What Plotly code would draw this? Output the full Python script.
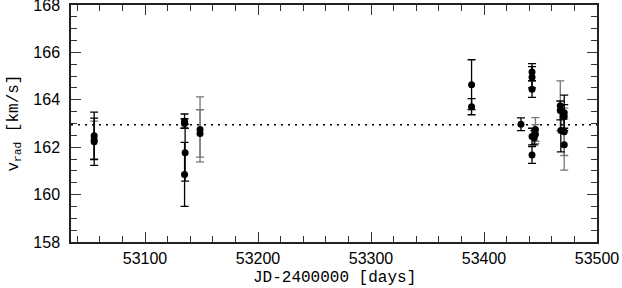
import plotly.graph_objects as go

# radial velocity measurements (JD-2400000, km/s); black error bars
jd_a = [53055.0, 53055.0, 53135.0, 53135.0, 53135.5, 53135.0, 53389.0, 53389.0,
        53432.7, 53442.5, 53442.5, 53442.5, 53442.5, 53442.5, 53444.5,
        53467.5, 53468.0, 53471.0, 53471.0]
v_a = [162.48, 162.23, 163.1, 163.0, 161.77, 160.85, 164.64, 163.71,
       162.97, 165.17, 164.95, 164.45, 162.45, 161.67, 162.4,
       163.55, 162.7, 163.45, 163.3]
err_a = [1.0, 1.0, 0.3, 0.2, 1.2, 1.35, 1.05, 0.34,
         0.27, 0.36, 0.45, 0.35, 0.35, 0.35, 0.3,
         0.4, 0.9, 0.75, 0.5]

# second instrument: grey error bars
jd_b = [53055.0, 53148.7, 53148.7, 53445.5, 53445.5, 53467.5, 53471.0, 53471.0]
v_b = [162.3, 162.75, 162.58, 162.75, 162.55, 163.75, 162.65, 162.1]
err_b = [0.8, 1.37, 1.0, 0.5, 0.4, 1.05, 1.0, 1.07]

v_mean = 162.95

x_ticks = [53100, 53200, 53300, 53400, 53500]
y_ticks = [158, 160, 162, 164, 166, 168]
x_range = [53034.5, 53500]
y_range = [158, 168]

fig = go.Figure()

fig.add_trace(go.Scatter(
    x=jd_b, y=v_b, mode='markers',
    marker=dict(color='black', size=7),
    error_y=dict(type='data', array=err_b, color='#777777', thickness=1.3, width=4),
    showlegend=False))

fig.add_trace(go.Scatter(
    x=jd_a, y=v_a, mode='markers',
    marker=dict(color='black', size=7),
    error_y=dict(type='data', array=err_a, color='black', thickness=1.3, width=4),
    showlegend=False))

fig.add_hline(y=v_mean, line=dict(color='black', width=1.5, dash='2px,5px'), layer='below')

tick_font = dict(family='Liberation Sans, Arial, sans-serif', size=16, color='black')
title_font = dict(family='Liberation Mono, Courier New, monospace', size=16, color='black')


def frame_axis(**kw):
    d = dict(showline=True, linecolor='#222222', linewidth=1.5,
             ticks='inside', ticklen=10, tickwidth=1.3, tickcolor='#333333',
             showgrid=False, zeroline=False, automargin=False, tickfont=tick_font,
             ticklabeloverflow='allow')
    d.update(kw)
    return d


x_minor = dict(dtick=20, tick0=53000, ticks='inside', ticklen=6, tickcolor='#333333', tickwidth=1.2)
y_minor = dict(dtick=0.5, tick0=158, ticks='inside', ticklen=6, tickcolor='#333333', tickwidth=1.2)
y_rng = [y_range[0] - 0.001, y_range[1] + 0.001]

fig.update_layout(
    width=622, height=288,
    margin=dict(l=71, r=25, t=5, b=46),
    plot_bgcolor='white', paper_bgcolor='white',
    xaxis=frame_axis(range=x_range, tickvals=x_ticks, tickformat='d', minor=x_minor,
                     ticklabelstandoff=1),
    yaxis=frame_axis(range=y_rng, tickvals=y_ticks, minor=y_minor, ticklabelstandoff=6),
    xaxis2=frame_axis(range=x_range, tickvals=x_ticks, minor=x_minor, overlaying='x',
                      side='top', showticklabels=False, anchor='y'),
    yaxis2=frame_axis(range=y_rng, tickvals=y_ticks, minor=y_minor, overlaying='y',
                      side='right', showticklabels=False, anchor='x'),
)

# invisible trace to activate the mirrored top/right axes
fig.add_trace(go.Scatter(x=[x_range[0]], y=[y_range[0]], xaxis='x2', yaxis='y2',
                         mode='markers', marker=dict(opacity=0), showlegend=False,
                         hoverinfo='skip'))

fig.add_annotation(text='JD-2400000 [days]', xref='paper', yref='paper',
                   x=0.5, y=0, yshift=-36, showarrow=False, font=title_font,
                   xanchor='center', yanchor='middle')
fig.add_annotation(text='v<sub>rad</sub> [km/s]', xref='paper', yref='paper',
                   x=0, xshift=-57, y=0.5, showarrow=False, font=title_font,
                   textangle=-90, xanchor='center', yanchor='middle')

# drop the default 8px body margin so the figure sits at the page origin
fig.write_html("out.html", config={'displayModeBar': False},
               post_script="document.body.style.margin='0';")
